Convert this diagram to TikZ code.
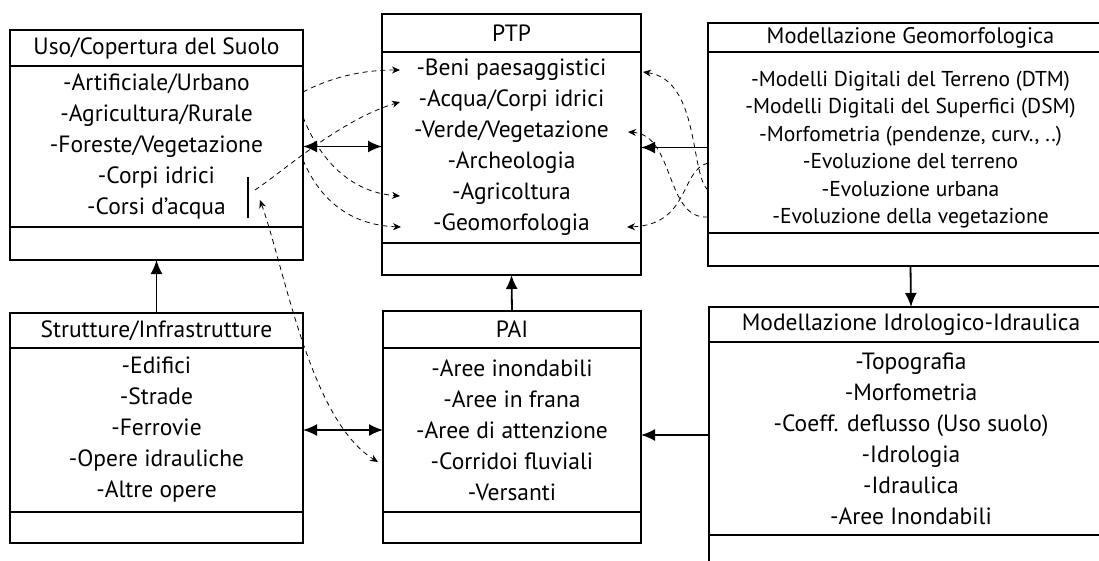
\documentclass[tikz,border=0pt]{standalone}
\usepackage{fontspec}
\setmainfont{PT Sans}
\usetikzlibrary{positioning, arrows.meta}

\tikzset{
	boxtitle/.style={draw, line width=1.8pt, outer sep=0pt, inner sep=2pt, anchor=north west,
		font=\fontsize{23.5}{26}\selectfont},
	boxbody/.style={draw, line width=1.8pt, outer sep=0pt, inner sep=2pt, align=center,
		font=\fontsize{23.5}{31}\selectfont},
	boxfoot/.style={draw, line width=1.8pt, outer sep=0pt},
	link/.style={line width=1.8pt},
	hint/.style={line width=0.8pt, dash pattern=on 5pt off 4pt},
	bigtip/.style={arrows={-Latex[length=14pt,width=12pt]}},
	bothtip/.style={arrows={Latex[length=14pt,width=12pt]-Latex[length=14pt,width=12pt]}},
	smalltip/.style={arrows={-Stealth[length=8pt,width=7pt]}}
}

\begin{document}
\begin{tikzpicture}[x=1pt, y=-1pt]
	\useasboundingbox (0,0) rectangle (1099,561);
	\clip (0,0) rectangle (1099,561);

	% Uso del suolo
	\node[boxtitle, minimum width=293pt, minimum height=36pt] (usotit) at (10,30) {Uso/Copertura del Suolo};
	\node[boxbody, minimum width=293pt, minimum height=161pt, below=0pt of usotit] (usobody)
		{-Artificiale/Urbano\\-Agricultura/Rurale\\-Foreste/Vegetazione\\-Corpi idrici\\-Corsi d'acqua};
	\node[boxfoot, minimum width=293pt, minimum height=33pt, below=0pt of usobody] (usofoot) {};
	\draw[link] (248,177) -- (248,218);

	% PTP
	\node[boxtitle, minimum width=259pt, minimum height=38pt] (ptptit) at (382,14) {PTP};
	\node[boxbody, minimum width=259pt, minimum height=191pt, below=0pt of ptptit] (ptpbody)
		{-Beni paesaggistici\\-Acqua/Corpi idrici\\-Verde/Vegetazione\\-Archeologia\\-Agricoltura\\-Geomorfologia};
	\node[boxfoot, minimum width=259pt, minimum height=32pt, below=0pt of ptpbody] (ptpfoot) {};

	% Modellazione geomorfologica
	\node[boxtitle, minimum width=405pt, minimum height=29pt, font=\fontsize{22.5}{25}\selectfont] (geotit) at (708,23) {Modellazione Geomorfologica};
	\node[boxbody, minimum width=405pt, minimum height=181pt, below=0pt of geotit, font=\fontsize{21.5}{27.5}\selectfont] (geobody)
		{\rule{0pt}{30pt}-Modelli Digitali del Terreno (DTM)\\-Modelli Digitali del Superfici (DSM)\\-Morfometria (pendenze, curv., ..)\\-Evoluzione del terreno\\-Evoluzione urbana\\-Evoluzione della vegetazione};
	\node[boxfoot, minimum width=405pt, minimum height=33pt, below=0pt of geobody] (geofoot) {};

	% Strutture
	\node[boxtitle, minimum width=293pt, minimum height=35pt] (strtit) at (10,313) {Strutture/Infrastrutture};
	\node[boxbody, minimum width=293pt, minimum height=164pt, below=0pt of strtit] (strbody)
		{-Edifici\\-Strade\\-Ferrovie\\-Opere idrauliche\\-Altre opere};
	\node[boxfoot, minimum width=293pt, minimum height=31pt, below=0pt of strbody] (strfoot) {};

	% PAI
	\node[boxtitle, minimum width=258pt, minimum height=37pt] (paitit) at (383,311) {PAI};
	\node[boxbody, minimum width=258pt, minimum height=164pt, below=0pt of paitit] (paibody)
		{-Aree inondabili\\-Aree in frana\\-Aree di attenzione\\-Corridoi fluviali\\-Versanti};
	\node[boxfoot, minimum width=258pt, minimum height=31pt, below=0pt of paibody] (paifoot) {};

	% Modellazione idrologico-idraulica
	\node[boxtitle, minimum width=404pt, minimum height=35pt] (idrotit) at (709,307) {Modellazione Idrologico-Idraulica};
	\node[boxbody, minimum width=404pt, minimum height=193pt, below=0pt of idrotit] (idrobody)
		{-Topografia\\-Morfometria\\-Coeff. deflusso (Uso suolo)\\-Idrologia\\-Idraulica\\-Aree Inondabili};
	\node[boxfoot, minimum width=404pt, minimum height=40pt, below=0pt of idrobody] (idrofoot) {};

	% solid links
	\draw[link, bothtip] (usobody.east) -- (usobody.east -| ptpbody.west);
	\draw[link, bigtip] (strtit.north) -- (usofoot.south);
	\draw[link, bigtip] (paitit.north) -- (ptpfoot.south);
	\draw[link, bigtip] (ptpbody.east -| geobody.west) -- (ptpbody.east);
	\draw[link, bigtip] (geofoot.south) -- (idrotit.north);
	\draw[link, bigtip] ([yshift=-5pt]paibody.east -| idrobody.west) -- ([yshift=-5pt]paibody.east);
	\draw[link, bothtip] (strbody.east) -- (paibody.west);

	% dashed links
	\coordinate (usoA) at (303,92);
	\coordinate (usoB) at (255,190);
	\coordinate (usoC) at (303,117);
	\coordinate (usoD) at (303,160);
	\coordinate (usoE) at (260,200);
	\coordinate (ptpA) at (400,70);
	\coordinate (ptpB) at (400,102);
	\coordinate (ptpE) at (400,196);
	\coordinate (ptpF) at (401,227);
	\coordinate (ptpR1) at (643,72);
	\coordinate (ptpR3) at (628,132);
	\coordinate (ptpR6) at (627,227);
	\coordinate (geoD) at (708,163);
	\coordinate (geoE) at (708,190);
	\coordinate (geoF) at (708,217);
	\coordinate (paiD) at (378,462);

	\draw[hint, smalltip] (usoA) .. controls (330,78) and (360,70) .. (ptpA);
	\draw[hint, smalltip] (usoB) .. controls (285,170) and (340,120) .. (ptpB);
	\draw[hint, smalltip] (usoC) .. controls (320,160) and (350,192) .. (ptpE);
	\draw[hint, smalltip] (usoD) .. controls (320,200) and (350,225) .. (ptpF);
	\draw[hint, arrows={Stealth[length=8pt,width=7pt]-Stealth[length=8pt,width=7pt]}]
		(usoE) .. controls (285,270) and (310,420) .. (paiD);
	\draw[hint, smalltip] (geoE) .. controls (690,175) and (700,80) .. (ptpR1);
	\draw[hint, smalltip] (geoF) .. controls (665,220) and (675,135) .. (ptpR3);
	\draw[hint, smalltip] (geoD) .. controls (680,170) and (690,225) .. (ptpR6);
\end{tikzpicture}
\end{document}
